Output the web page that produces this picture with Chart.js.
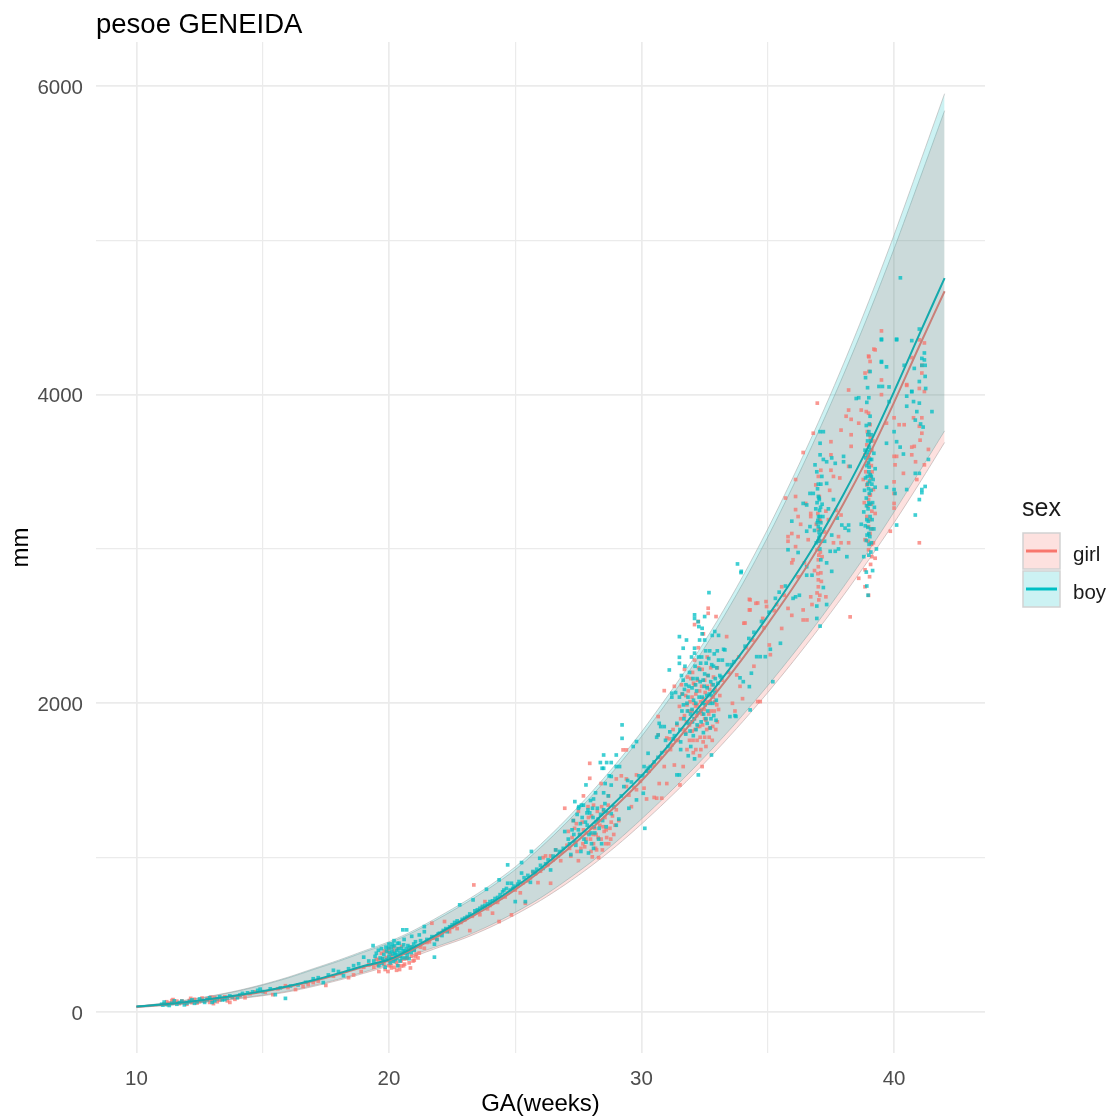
<!DOCTYPE html>
<html>
<head>
<meta charset="utf-8">
<title>pesoe GENEIDA</title>
<script src="https://cdn.jsdelivr.net/npm/chart.js@4"></script>
<style>
    html, body { margin: 0; padding: 0; background: #ffffff; }
    #wrap { width: 1110px; height: 1117px; }
    canvas { filter: blur(0.45px); }
</style>
</head>
<body>
<div id="wrap"><canvas id="growthChart" width="1110" height="1117"></canvas></div>
<script>
// Chart values
const weeks = [10,11,12,13,14,15,16,17,18,19,20,21,22,23,24,25,26,27,28,29,30,31,32,33,34,35,36,37,38,39,40,41,42];
const girlMedian = [34,47,63,83,105,131,163,200,244,292,334,410,498,592,685,793,912,1043,1185,1338,1498,1680,1880,2078,2290,2515,2750,3008,3295,3605,3950,4315,4670];
const boyMedian = [35,48,65,85,108,135,167,205,250,298,340,420,510,605,700,810,930,1065,1210,1365,1530,1715,1920,2120,2335,2565,2805,3065,3355,3670,4020,4390,4755];
const girlUpper = [37,54,76,103,135,174,220,274,328,387,446,520,608,702,805,922,1065,1222,1395,1582,1785,2005,2236,2492,2773,3078,3408,3758,4130,4525,4945,5390,5840];
const boyUpper = [38,55,78,105,138,178,225,280,335,395,455,530,620,715,820,940,1085,1245,1420,1610,1815,2040,2275,2535,2820,3130,3465,3820,4200,4605,5035,5490,5950];
const girlLower = [28,40,52,68,85,105,130,165,205,250,300,360,420,478,548,630,722,828,945,1075,1218,1370,1530,1700,1880,2070,2270,2480,2700,2930,3170,3425,3690];
const boyLower = [29,41,54,70,88,109,135,171,212,258,309,373,430,489,561,645,739,850,970,1103,1250,1405,1568,1740,1922,2115,2318,2530,2755,2990,3240,3500,3765];

const xTicks = [10,15,20,25,30,35,40];
const yTicks = [0,1000,2000,3000,4000,5000,6000];

// Measurements as [GA, weight], grouped by the clusters visible in the picture
const girlEarly = [[11.1,52],[11.2,66],[11.3,58],[11.4,74],[11.5,62],[11.6,70],[11.7,54],[11.9,60],[12.1,74],[12.2,60],[12.3,82],[12.5,66],[12.6,90],[12.7,70],[12.9,62],[13,78],[13.1,92],[13.2,66],[13.4,84],[13.6,72],[13.8,94],[14.1,104],[14.5,118],[15.4,112],[15.9,170],[16.3,145],[16.8,178],[17.2,200],[17.5,172],[18.1,250],[18.4,222],[18.9,262],[19.2,305],
    [11.25,48],[11.45,80],[11.8,72],[12,50],[12.15,88],[12.4,58],[12.8,84],[12.95,96],[13.05,54],[13.3,76],[13.5,98],[13.7,62],[13.9,82],[14.3,92],[14.7,130],[15.1,128],[15.6,150],[16,158],[16.6,165],[17,190],[17.8,232],[18.6,240],[19,290]];
const girl20 = [[19.4,290],[19.5,340],[19.6,262],[19.7,380],[19.8,310],[19.9,352],[19.96,262],[20,410],[20,300],[20.05,372],[20.1,285],[20.15,338],[20.2,395],[20.3,318],[20.3,270],[20.4,360],[20.5,425],[20.5,298],[20.6,345],[20.7,388],[20.8,318],[20.9,362],[21,405],[21,335],[21.2,382],[21.4,413],[21.6,455],
    [19.55,305],[19.75,345],[19.85,275],[19.95,390],[20.02,330],[20.12,362],[20.22,290],[20.28,345],[20.35,410],[20.42,275],[20.48,330],[20.55,380],[20.62,310],[20.72,350],[20.78,405],[20.85,285],[20.95,330],[21.08,375],[21.15,350],[21.25,420]];
const girlMid = [[21.7,575],[21.9,470],[22.2,586],[22.4,520],[22.7,540],[23.2,527],[23.36,823],[23.6,630],[23.8,715],[23.9,668],[24.1,640],[24.36,586],[24.3,710],[24.6,745],[24.85,629],[25,790],[25.2,772],[25.4,704],[25.5,850],[25.7,905],[25.9,838],[26.1,1000],[26.2,1011],[26.3,955],[26.4,834],[26.4,1011],[26.6,1050],[26.8,980],[26.96,1320],
    [21.5,450],[21.8,478],[22,498],[22.1,515],[22.3,532],[22.5,548],[22.6,560],[22.85,580],[23,596],[23.1,612],[23.3,620],[23.45,645],[23.55,655],[23.7,678],[24,690],[24.2,712],[24.45,740],[24.7,770],[24.95,795],[25.1,815],[25.3,835],[25.6,868],[25.8,895],[26,912],[26.25,950],[26.5,985],[26.7,1010],[26.85,1035]];
const girl28 = [[27.05,1080],[27.1,1170],[27.2,1010],[27.3,1240],[27.4,1100],[27.5,1300],[27.5,980],[27.6,1060],[27.7,1180],[27.7,1400],[27.8,1120],[27.9,1260],[27.95,1514],[27.95,1611],[28,1040],[28,1195],[28.1,1340],[28.1,1090],[28.2,1150],[28.3,1240],[28.3,1000],[28.4,1120],[28.4,1480],[28.5,1300],[28.6,1180],[28.7,1090],[28.7,1400],[28.8,1230],[28.9,1150],[29,1310],[29,1510],[29.1,1240],[29.27,1698],[29.4,1698],[29.2,1530],[29.4,1510],[29.4,1460],
    [27.15,1060],[27.25,1130],[27.35,1190],[27.45,1040],[27.55,1150],[27.65,1230],[27.75,1070],[27.82,1160],[27.88,1330],[27.98,1120],[28.02,1270],[28.05,1005],[28.15,1190],[28.18,1060],[28.25,1300],[28.28,1130],[28.35,1210],[28.45,1050],[28.52,1170],[28.55,1260],[28.62,1130],[28.68,1340],[28.75,1190],[28.85,1270],[28.95,1210]];
const girlMid30 = [[29.6,1330],[29.8,1536],[29.8,1440],[30.1,1450],[30.2,1380],[30.5,1390],[30.6,1385],[30.66,1914],[30.66,1795],[30.7,1480],[30.8,1385],[30.9,2082],[30.9,1590],[31,1775],[31,1480],[31.1,1770],[31.2,1730],[31.25,1830],[31.3,1600],[31.52,1471],
    [29.5,1405],[29.7,1455],[29.95,1495],[30.3,1560],[30.45,1600],[30.75,1650],[30.95,1690],[31.15,1700],[31.35,1760]];
const girl32 = [[31.3,2110],[31.4,1860],[31.45,1760],[31.5,1980],[31.6,2060],[31.65,1590],[31.65,1830],[31.7,1920],[31.7,2220],[31.8,1700],[31.8,1990],[31.85,2080],[31.9,1860],[31.9,1760],[31.95,2160],[32,1950],[32,1820],[32,2040],[32.05,1680],[32.1,2280],[32.1,1900],[32.1,2120],[32.2,1760],[32.2,1990],[32.25,2360],[32.3,1850],[32.3,2080],[32.3,1660],[32.4,1590],[32.4,1930],[32.4,2220],[32.45,2030],[32.5,1780],[32.5,2150],[32.55,1890],[32.6,2010],[32.6,2300],[32.64,2583],[32.64,2616],[32.7,1840],[32.7,2090],[32.75,1950],[32.8,1760],[32.85,2170],[32.9,2010],[32.95,2562],[33,1880],[33,2230],[33.1,2050],[32.1,2510],[32.25,2530],[32.45,2450],[33.37,2432],
    [31.55,1900],[31.75,1810],[31.75,2050],[31.88,1950],[31.92,2010],[31.98,1880],[32.02,2200],[32.08,2000],[32.12,1830],[32.15,2060],[32.18,1920],[32.22,2150],[32.28,1940],[32.32,1780],[32.34,2010],[32.38,2110],[32.42,1860],[32.48,1960],[32.52,2070],[32.58,1830],[32.62,2180],[32.66,1930],[32.72,2010],[32.78,2120],[32.82,1850],[32.88,1950],[32.92,2090],[32.98,1990],[33.05,1960],[32.15,1700],[32.35,1700],[32.55,1720]];
const girlLate35 = [[33.6,2000],[33.7,1950],[33.77,2184],[33.9,2110],[34.05,2519],[34.1,2520],[34,2030],[34.27,2674],[34.27,2605],[34.3,2605],[34.3,2670],[34.45,2240],[34.53,2648],[34.6,2650],[34.6,2011],[34.7,2011],[34.8,2550],[34.93,2659],[34.95,2627],[35.06,2378],[35.1,2315],[35.55,2485],[35.55,2755],[35.7,3330],[35.8,2615],[35.8,3080],[35.8,3050],[35.95,3100],[35.95,2570],[36,2930],[35.95,2910],
    [33.2,2150],[33.45,2200],[33.85,2300],[34.15,2360],[34.4,2410],[34.85,2490],[35.25,2600],[35.35,2640],[35.65,2700]];
const girl37 = [[36.1,3450],[36.1,3340],[36.1,3255],[36.1,3015],[36.2,3210],[36.2,3080],[36.2,2820],[36.4,3625],[36.4,2605],[36.4,2540],[36.5,3295],[36.55,2540],[36.7,3230],[36.7,3210],[36.75,2640],[36.7,2690],[36.8,3750],[36.9,3415],[36.95,2995],[36.95,2715],[36.96,3945],[37,3470],[37,3125],[37,2930],[37,2885],[37,2800],[37,2755],[37.05,3050],[37.1,3510],[37.1,2845],[37.3,3245],[37.3,2690],[37.4,3190],[37.5,3695],[37.5,3610],[37.5,3510],[37.6,3470],[37.6,3040],[37.8,3080],[37.9,3770],[37.9,3220],[37.9,3040],
    [36.3,3160],[36.45,2910],[36.6,3060],[36.85,2860],[36.92,3160],[36.98,3230],[37.02,2960],[37.04,3340],[37.06,2700],[37.08,3180],[37.12,2790],[37.15,2950],[37.25,3110],[37.45,3380],[37.7,3250],[37.85,3460]];
const girl39 = [[38.1,3860],[38.2,4030],[38.2,3900],[38.2,3535],[38.2,3040],[38.26,2560],[38.3,3840],[38.3,3740],[38.3,3665],[38.6,3815],[38.6,2810],[38.7,3900],[38.85,4140],[38.85,3610],[38.85,3060],[38.85,2865],[38.85,2755],[38.9,3890],[38.92,3675],[38.92,3415],[38.92,3210],[38.99,4250],[38.99,3880],[38.99,3555],[38.99,3320],[38.99,3145],[38.99,2995],[38.99,2700],[39,4245],[39,4150],[39.05,4215],[39.05,3805],[39.05,3485],[39.05,3100],[39.08,3460],[39.12,3640],[39.12,3245],[39.12,2950],[39.18,3385],[39.18,3040],[39.2,4295],[39.25,4290],[39.25,3230],[39.25,2940],
    [38.88,3500],[38.94,3760],[38.96,3280],[38.98,3050],[39.01,3590],[39.03,3350],[39.04,3190],[39.06,3720],[39.07,2900],[39.09,3290],[39.1,3540],[39.14,3130],[39.16,3700],[38.82,3300],[38.78,3450]];
const girl41 = [[39.5,4413],[39.5,4095],[39.5,4000],[39.7,3815],[39.85,3115],[40,3850],[40,3600],[40,3435],[40,3360],[40,3295],[40,3265],[40.04,3545],[40.1,3600],[40.2,3805],[40.37,3490],[40.4,3805],[40.5,4065],[40.5,4060],[40.7,4240],[40.7,3660],[40.7,3610],[40.77,3850],[40.8,3665],[40.85,3565],[40.9,3450],[41,4355],[41,4040],[41,3795],[41,3040],[41.03,3705],[41.1,4190],[41.1,4140],[41.1,3850],[41.1,3750],[41.2,4335],[41.2,4020],[41.2,3545],[41.36,3645]];
// second pass over the dense blobs
const girlDense = [[19.6,340],[19.82,395],[20.08,300],[20.18,420],[20.38,300],[20.58,300],[20.68,345],[20.88,420],[21.05,360],[27.42,1220],[27.68,1090],[28.08,1150],[28.22,1050],[28.42,1330],[28.48,1200],[28.58,1090],[28.78,1120],[31.58,2120],[31.78,1880],[31.82,2170],[32.04,1760],[32.06,2130],[32.14,1980],[32.24,1850],[32.26,2230],[32.36,1960],[32.44,1750],[32.5,1900],[32.54,2000],[32.6,2110],[32.68,1780],[32.74,2230],[32.84,2040],[32.94,1830],[36.98,2840],[37.02,2670],[37.04,3190],[37.08,2980],[38.97,3430],[39.02,3740],[39.03,2820],[39.06,3350],[39.11,3030],[39.13,3500]];

const boyEarly = [[11,50],[11.1,64],[11.2,48],[11.4,56],[11.5,72],[11.7,60],[11.9,46],[12.1,68],[12.3,56],[12.5,84],[12.7,62],[12.9,92],[13.1,72],[13.3,98],[13.5,80],[13.7,104],[14,92],[14.2,120],[14.6,130],[14.9,148],[15.5,112],[15.9,88],[16.4,175],[17,215],[17.4,190],[17.8,270],[18.2,235],[18.6,300],[19,355],[19.37,430],
    [11.05,44],[11.3,42],[11.6,50],[11.8,70],[12,58],[12.2,78],[12.4,66],[12.6,74],[12.8,80],[13,62],[13.2,86],[13.4,78],[13.6,92],[13.8,98],[14.1,110],[14.4,124],[14.8,140],[15,132],[15.3,150],[15.7,156],[16.1,168],[16.7,192],[17.2,222],[17.6,240],[18,262],[18.4,280],[18.8,312],[19.2,330]];
const boy20 = [[19.4,330],[19.5,380],[19.6,300],[19.7,410],[19.75,345],[19.85,290],[19.9,395],[20,440],[20,360],[20.05,318],[20.1,420],[20.15,375],[20.2,462],[20.25,340],[20.3,400],[20.35,300],[20.4,445],[20.45,360],[20.5,412],[20.55,532],[20.6,470],[20.65,382],[20.7,532],[20.75,430],[20.8,345],[20.9,490],[21,400],[21.05,455],[21.2,499],[21.4,553],[21.4,520],[21.8,355],[21.8,439],
    [19.45,360],[19.65,350],[19.72,315],[19.8,372],[19.92,340],[19.98,415],[20.08,345],[20.12,395],[20.18,328],[20.22,428],[20.28,372],[20.32,350],[20.38,410],[20.42,385],[20.52,350],[20.58,435],[20.62,395],[20.68,410],[20.72,370],[20.82,420],[20.88,385],[20.98,440],[21.1,425],[21.25,462],[21.5,470]];
const boyMid = [[21.9,470],[22,510],[22.1,495],[22.3,520],[22.5,565],[22.8,694],[22.9,600],[23.1,618],[23.33,726],[23.5,662],[23.7,684],[23.86,795],[23.9,700],[24.1,720],[24.3,742],[24.36,856],[24.5,778],[24.7,953],[24.7,834],[24.85,834],[24.9,800],[25,715],[25.1,828],[25.25,968],[25.25,900],[25.4,715],[25.6,840],[25.64,1040],[25.8,900],[25.97,996],[26.1,930],[26.2,960],[26.4,920],[26.6,1050],[26.96,1169],
    [21.7,488],[21.95,505],[22.15,528],[22.25,540],[22.4,552],[22.6,580],[22.7,590],[23,608],[23.2,635],[23.4,655],[23.6,672],[23.8,690],[24,715],[24.2,735],[24.4,760],[24.55,790],[24.65,800],[24.8,790],[24.95,815],[25.15,845],[25.35,870],[25.5,885],[25.7,910],[25.85,925],[26,950],[26.3,985],[26.5,1010],[26.75,1040],[26.9,1060]];
const boy28 = [[27.1,1120],[27.2,1020],[27.3,1240],[27.36,1363],[27.4,1080],[27.5,1180],[27.5,1320],[27.52,1330],[27.6,1040],[27.65,1260],[27.7,1340],[27.8,1471],[27.8,1100],[27.85,1210],[27.9,1030],[27.95,1290],[28,1160],[28.1,1380],[28.1,1060],[28.2,1230],[28.3,1120],[28.37,1616],[28.44,1579],[28.5,1665],[28.5,1579],[28.5,1310],[28.5,1420],[28.6,1200],[28.62,1616],[28.8,1470],[28.8,1616],[28.8,1526],[28.8,1285],[29,1665],[29,1590],[29,1210],[29.13,1590],[29.23,1860],[29.23,1773],[29.1,1250],[29.2,1400],[29.5,1320],[29.67,1720],[29.8,1752],[29.8,1374],
    [27.15,1090],[27.25,1180],[27.35,1100],[27.45,1280],[27.55,1150],[27.62,1340],[27.72,1120],[27.78,1230],[27.88,1310],[27.92,1150],[27.98,1370],[28.02,1090],[28.08,1260],[28.15,1160],[28.18,1420],[28.25,1320],[28.32,1190],[28.38,1280],[28.42,1090],[28.55,1350],[28.65,1290],[28.72,1530],[28.9,1330],[29.3,1460],[29.45,1500],[29.6,1490],[29.9,1530]];
const boyMid30 = [[30.1,1590],[30.13,1190],[30.07,1417],[30.26,1676],[30.26,1580],[30.6,1780],[30.66,1795],[30.7,1870],[30.76,1849],[30.9,1849],[30.95,1760],[31.1,2216],[31.12,1815],[31.2,2065],[31.2,2040],[31.4,1536],[31.5,1536],[31.5,2432],[31.5,2298],[31.5,2259],
    [30.05,1530],[30.2,1560],[30.35,1590],[30.5,1620],[30.65,1650],[30.8,1680],[31.05,1720],[31.25,1770],[31.35,2070],[31.3,1790]];
const boy32 = [[31.4,1870],[31.5,2040],[31.55,1750],[31.6,1950],[31.65,2357],[31.65,2150],[31.7,2090],[31.75,1800],[31.78,2410],[31.8,2000],[31.85,1870],[31.9,2200],[31.95,1720],[32,2100],[32,1960],[32.05,1790],[32.1,2573],[32.1,2550],[32.1,2357],[32.1,2325],[32.15,2000],[32.2,1860],[32.2,2160],[32.24,2529],[32.25,1536],[32.27,2497],[32.3,2410],[32.3,2220],[32.35,1950],[32.4,2486],[32.4,2450],[32.4,2040],[32.45,1810],[32.5,2562],[32.5,2410],[32.5,2190],[32.55,1900],[32.6,2100],[32.67,2717],[32.7,2340],[32.7,2000],[32.75,1900],[32.77,1665],[32.8,2440],[32.85,2240],[32.9,2465],[32.9,2070],[32.95,1890],[33,2340],[33.05,2280],[33.05,2440],[33.2,2280],[33.25,2350],
    [31.52,1830],[31.62,2060],[31.68,1900],[31.72,2240],[31.82,1950],[31.88,2110],[31.92,1820],[31.98,2300],[32.02,1880],[32.06,2020],[32.12,2240],[32.18,2080],[32.22,1940],[32.26,2300],[32.32,2140],[32.36,1880],[32.38,2300],[32.42,2000],[32.48,2110],[32.52,1990],[32.56,2260],[32.58,2050],[32.62,1950],[32.64,2180],[32.68,2060],[32.72,1840],[32.74,2140],[32.78,2250],[32.82,2000],[32.86,1920],[32.92,2160],[32.96,2020],[33.02,2130],[31.55,1700],[31.85,1660],[32.1,1640]];
const boyLate35 = [[33.3,2346],[33.4,2250],[33.5,1914],[33.7,1920],[33.74,1915],[33.8,2903],[33.9,2165],[33.94,2847],[33.95,2855],[34.03,2140],[34.27,2108],[34.3,1957],[34.35,2195],[34.56,2302],[34.7,2302],[34.9,2302],[35.1,2350],[35.2,2140],[35.5,2389],[35.8,2995],
    [33.15,2170],[33.55,2250],[33.65,2270],[34.1,2370],[34.25,2420],[34.45,2460],[34.75,2530],[35.05,2590],[35.3,2680],[35.45,2720],[35.7,2760]];
const boy37 = [[35.95,3180],[36,2680],[36.1,2690],[36.2,2977],[36.25,2700],[36.4,3295],[36.54,3285],[36.54,3115],[36.54,2885],[36.54,2830],[36.67,3360],[36.67,3145],[36.75,2830],[36.8,3360],[36.87,3545],[36.94,3500],[36.94,2630],[36.94,2550],[36.95,3300],[36.98,3185],[37,3340],[37,3145],[37.02,3070],[37.05,3250],[37.07,3760],[37.07,3685],[37.07,3610],[37.07,2500],[37.1,3420],[37.1,3170],[37.1,2930],[37.15,3290],[37.2,3760],[37.2,3580],[37.2,2750],[37.33,3565],[37.33,3425],[37.33,2910],[37.33,2640],[37.47,2985],[37.53,3590],[37.53,3090],[37.53,2855],[37.67,3555],[37.67,2985],[37.8,3000],[37.93,3155],[38,3600],[38,3565],[38.06,3135],[38.13,2950],[38.2,3155],[38.2,3120],[38.26,3535],
    [36.85,3120],[36.9,3260],[36.92,3040],[36.96,3170],[36.97,3390],[37.01,3210],[37.03,3110],[37.04,3320],[37.06,3000],[37.08,3130],[37.09,3270],[37.12,3050],[37.14,3470],[37.18,3210],[37.25,3050],[37.4,3260],[37.6,3320],[37.75,3200]];
const boy39 = [[38.5,3975],[38.6,3980],[38.7,3160],[38.8,3240],[38.8,2950],[38.85,3640],[38.87,3460],[38.87,4110],[38.9,3800],[38.9,3330],[38.9,3055],[38.9,2850],[38.92,3950],[38.92,3540],[38.92,3190],[38.92,2760],[38.95,4045],[38.95,3700],[38.95,3420],[38.97,3610],[38.97,3260],[38.97,2700],[39,3980],[39,3760],[39,3500],[39,3100],[39,2960],[39.02,3660],[39.02,3360],[39.05,4150],[39.05,3860],[39.05,3580],[39.05,3210],[39.08,2980],[39.1,3470],[39.1,3740],[39.1,3040],[39.15,3300],[39.15,2860],[39.2,3620],[39.2,3130],[39.25,3520],[39.25,3400],[39.3,3000],[39.4,4053],[39.5,4355],[39.5,4215],[39.5,4360],[39.5,4210],[39.54,4053],[39.7,4180],[39.7,3685],[39.7,3400],[39.8,3955],[39.8,4050],
    [38.83,3380],[38.86,3150],[38.88,3590],[38.91,3280],[38.93,3090],[38.94,3470],[38.96,3740],[38.98,3180],[38.99,3390],[39.01,3030],[39.01,3530],[39.03,3440],[39.04,3290],[39.06,3640],[39.07,3130],[39.09,3380],[39.11,3580],[39.13,3190],[39.17,3450],[39.22,3270]];
const boy41 = [[40,3760],[40,3385],[40.04,3360],[40.1,4360],[40.1,3695],[40.1,3155],[40.1,4355],[40.24,3660],[40.25,4757],[40.37,3615],[40.4,4190],[40.5,3990],[40.5,3925],[40.5,3385],[40.7,4020],[40.7,4350],[40.7,4020],[40.77,3955],[40.8,4170],[40.84,3835],[40.84,3490],[40.84,3220],[40.9,3890],[41,4425],[41,4085],[41,3945],[41,3490],[41,3320],[41.05,3810],[41.1,4235],[41.1,4190],[41.1,3385],[41.1,3365],[41.15,3790],[41.2,4270],[41.2,4225],[41.23,4118],[41.23,4190],[41.23,3405],[41.25,4040],[41.36,3580],[41.5,3890]];
// second pass over the dense blobs
const boyDense = [[19.58,400],[19.78,330],[19.88,420],[20.02,385],[20.14,440],[20.24,380],[20.34,445],[20.44,330],[20.56,395],[20.66,350],[20.76,390],[20.92,420],[27.32,1150],[27.58,1220],[27.84,1290],[28.06,1320],[28.12,1200],[28.28,1250],[28.46,1240],[28.56,1480],[28.68,1400],[31.58,2180],[31.66,1990],[31.76,2120],[31.84,2040],[31.94,1930],[32.04,2160],[32.08,1900],[32.14,2120],[32.16,1830],[32.28,2040],[32.34,2260],[32.44,2150],[32.46,1930],[32.54,2340],[32.6,1870],[32.66,2290],[32.76,2050],[32.84,2120],[32.88,2320],[32.98,2230],[33.1,2180],[36.98,3050],[37,3420],[37.03,3330],[37.05,3090],[37.06,3210],[38.94,3630],[38.96,3140],[38.98,3560],[39,3300],[39.02,3810],[39.04,3080],[39.06,3480],[39.08,3700],[39.12,3420]];

const girlPoints = [...girlEarly, ...girl20, ...girlMid, ...girl28, ...girlMid30, ...girl32, ...girlLate35, ...girl37, ...girl39, ...girl41, ...girlDense];
const boyPoints = [...boyEarly, ...boy20, ...boyMid, ...boy28, ...boyMid30, ...boy32, ...boyLate35, ...boy37, ...boy39, ...boy41, ...boyDense];

const GIRL = '#F8766D';
const BOY = '#00BFC4';

function curve(values) {
    return values.map((y, i) => ({ x: weeks[i], y: y }));
}

function scatter(points) {
    return points.map(p => ({ x: p[0], y: p[1] }));
}

function band(label, values, target, color, order) {
    return {
        label: label,
        data: curve(values),
        borderColor: 'rgba(165, 165, 165, 0.55)',
        borderWidth: 1,
        backgroundColor: color,
        pointRadius: 0,
        tension: 0.3,
        fill: target === null ? false : { target: target },
        order: order
    };
}

function dots(label, points, color, order) {
    return {
        type: 'scatter',
        label: label,
        data: scatter(points),
        showLine: false,
        pointStyle: 'rect',
        pointRadius: 2.6,
        pointBorderWidth: 0,
        pointBackgroundColor: color,
        order: order
    };
}

// Legend keys and title are drawn here, ggplot style
const sexLegend = {
    id: 'sexLegend',
    afterDraw(chart) {
        const ctx = chart.ctx;
        const keys = [
            { name: 'girl', color: GIRL, fill: 'rgba(248, 118, 109, 0.22)', top: 533 },
            { name: 'boy', color: BOY, fill: 'rgba(0, 191, 196, 0.2)', top: 571 }
        ];
        ctx.save();
        ctx.fillStyle = '#1a1a1a';
        ctx.font = '25px "Liberation Sans"';
        ctx.textBaseline = 'middle';
        ctx.fillText('sex', 1022, 509);
        keys.forEach(k => {
            ctx.fillStyle = k.fill;
            ctx.strokeStyle = '#d2d2d2';
            ctx.lineWidth = 1.5;
            ctx.fillRect(1023, k.top, 37, 36);
            ctx.strokeRect(1023, k.top, 37, 36);
            ctx.strokeStyle = k.color;
            ctx.lineWidth = 3;
            ctx.beginPath();
            ctx.moveTo(1026, k.top + 18);
            ctx.lineTo(1057, k.top + 18);
            ctx.stroke();
            ctx.fillStyle = '#1a1a1a';
            ctx.font = '20.5px "Liberation Sans"';
            ctx.fillText(k.name, 1073, k.top + 22);
        });
        ctx.restore();
    }
};

const chart = new Chart(document.getElementById('growthChart'), {
    type: 'line',
    data: {
        datasets: [
            band('girl upper', girlUpper, 1, 'rgba(248, 118, 109, 0.22)', 6),
            band('girl lower', girlLower, null, 'transparent', 6),
            band('boy upper', boyUpper, 3, 'rgba(0, 191, 196, 0.2)', 5),
            band('boy lower', boyLower, null, 'transparent', 5),
            dots('girl', girlPoints, 'rgba(248, 118, 109, 0.75)', 3),
            dots('boy', boyPoints, 'rgba(0, 191, 196, 0.75)', 2),
            { label: 'girl median', data: curve(girlMedian), borderColor: '#C97F78', borderWidth: 2, pointRadius: 0, tension: 0.3, fill: false, order: 1 },
            { label: 'boy median', data: curve(boyMedian), borderColor: '#14A9AC', borderWidth: 2, pointRadius: 0, tension: 0.3, fill: false, order: 0 }
        ]
    },
    plugins: [sexLegend],
    options: {
        responsive: false,
        animation: false,
        layout: { padding: { left: 0, right: 125, top: 9, bottom: 0 } },
        plugins: {
            legend: { display: false },
            tooltip: { enabled: false },
            title: {
                display: true,
                text: 'pesoe GENEIDA',
                align: 'start',
                fullSize: false,
                color: '#000000',
                font: { family: '"Liberation Sans"', size: 27.5, weight: 'normal' },
                padding: { top: 0, bottom: 0 }
            }
        },
        scales: {
            x: {
                type: 'linear',
                min: 8.4,
                max: 43.6,
                afterFit: s => { s.height = 64; },
                afterBuildTicks: s => { s.ticks = xTicks.map(v => ({ value: v })); },
                border: { display: false },
                grid: {
                    drawTicks: false,
                    color: '#EBEBEB',
                    lineWidth: c => (c.tick && c.tick.value % 10 === 0 ? 1.7 : 1.2)
                },
                ticks: {
                    autoSkip: false,
                    maxRotation: 0,
                    padding: 14,
                    color: '#4D4D4D',
                    font: { family: '"Liberation Sans"', size: 20.5 },
                    callback: v => (v % 10 === 0 ? String(v) : '')
                },
                title: {
                    display: true,
                    text: 'GA(weeks)',
                    color: '#000000',
                    font: { family: '"Liberation Sans"', size: 24 },
                    padding: { top: 0, bottom: -2 }
                }
            },
            y: {
                type: 'linear',
                min: -266,
                max: 6285,
                afterFit: s => { s.width = 96; },
                afterBuildTicks: s => { s.ticks = yTicks.map(v => ({ value: v })); },
                border: { display: false },
                grid: {
                    drawTicks: false,
                    color: '#EBEBEB',
                    lineWidth: c => (c.tick && c.tick.value % 2000 === 0 ? 1.7 : 1.2)
                },
                ticks: {
                    autoSkip: false,
                    padding: 13,
                    labelOffset: 2,
                    color: '#4D4D4D',
                    font: { family: '"Liberation Sans"', size: 20.5 },
                    callback: v => (v % 2000 === 0 ? String(v) : '')
                },
                title: {
                    display: true,
                    text: 'mm',
                    color: '#000000',
                    font: { family: '"Liberation Sans"', size: 24 },
                    padding: { top: 7, bottom: 0 }
                }
            }
        }
    }
});
</script>
</body>
</html>
